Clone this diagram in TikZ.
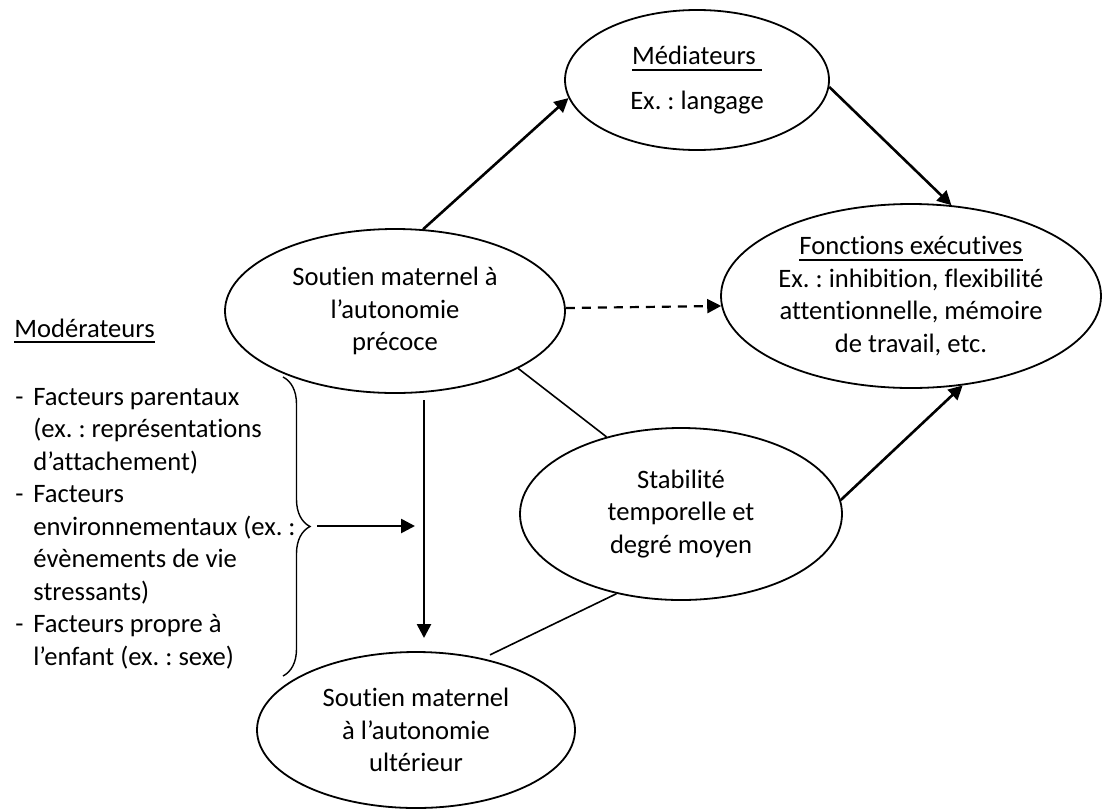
\documentclass[tikz,border=0pt]{standalone}
\usepackage{fontspec}
\setmainfont{Carlito}[Ligatures=NoCommon]
\usetikzlibrary{arrows.meta, positioning, shapes.geometric, decorations.pathreplacing}
\newcommand{\souligne}[1]{\setbox0\hbox{#1}\rlap{\rule[-3pt]{\wd0}{1pt}}\box0}
\frenchspacing

\begin{document}
\begin{tikzpicture}[
  x=0.5pt, y=-0.5pt,
  every node/.style={font=\fontsize{13.3}{16.25}\selectfont},
  oval/.style={draw, ellipse, line width=0.9pt, inner sep=0pt, align=center},
  flow/.style={-{Triangle[length=7pt,width=7pt]}, line width=1.3pt},
  link/.style={line width=0.8pt},
  item/.style={anchor=west, inner sep=0pt, text height=0.75em, text depth=0.25em}
]
  \useasboundingbox (0,0) rectangle (1102,809);

  % ellipses
  \node[oval, minimum width=132pt, minimum height=70pt]
    (med) at (697,80) {\souligne{Médiateurs\ }\\[6pt] Ex. : langage};
  \node[oval, minimum width=190pt, minimum height=92pt]
    (fon) at (911,296) {\souligne{Fonctions exécutives}\\ Ex. : inhibition, flexibilité\\ attentionnelle, mémoire\\ de travail, etc.};
  \node[oval, minimum width=170pt, minimum height=82pt]
    (pre) at (395,311) {Soutien maternel à\\ l’autonomie\\ précoce};
  \node[oval, minimum width=161pt, minimum height=86pt]
    (sta) at (681,514) {Stabilité\\ temporelle et\\ degré moyen};
  \node[oval, minimum width=159pt, minimum height=78pt]
    (ult) at (416,730) {Soutien maternel\\ à l’autonomie\\ ultérieur};

  % moderators
  \node[item] (mod) at (14,332) {\souligne{Modérateurs}};
  \foreach \txt [count=\i from 0] in {{Facteurs parentaux}, {(ex. : représentations}, {d’attachement)}, {Facteurs}, {environnementaux (ex. :}, {évènements de vie}, {stressants)}, {Facteurs propre à}, {l’enfant (ex. : sexe)}}
    \node[item] (line\i) at (33,{400+32.5*\i}) {\txt};
  \foreach \i in {0,3,7}
    \node[item] (dash\i) at (15,{400+32.5*\i}) {-};

  \coordinate (btop) at (283,377);
  \coordinate (bbot) at (283,676);
  \coordinate (btip) at (310,526);
  \coordinate (bto) at (415,526);
  \draw[decorate, decoration={brace, amplitude=13.5pt}, line width=0.7pt] (btop) -- (bbot);
  \draw[flow, shorten <=3.5pt] (btip) -- (bto);

  \coordinate (vtop) at (424,400);
  \coordinate (vbot) at (424,638);
  \draw[flow] (vtop) -- (vbot);

  % links
  \draw[flow] (pre.71) -- (med.188);
  \draw[flow] (med.-3) -- (fon.66);
  \draw[flow, line width=1.1pt, dash pattern=on 4.5pt off 3.5pt] (pre.1) -- (fon.183);
  \draw[link] (pre.-25) -- (sta.134);
  \draw[flow] (sta.5) -- (fon.-60);
  \draw[link, shorten >=4pt] (sta.231) -- (ult.47);
\end{tikzpicture}
\end{document}
